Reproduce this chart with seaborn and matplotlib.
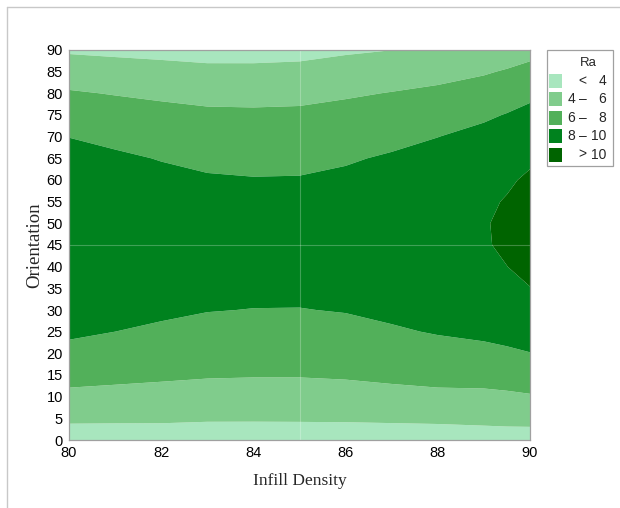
import numpy as np
import matplotlib
matplotlib.use('Agg')
import matplotlib.pyplot as plt
from matplotlib.patches import Rectangle
from matplotlib.lines import Line2D
import seaborn as sns

# Grid
infill = [80, 81, 82, 83, 84, 85, 86, 87, 88, 89, 89.5, 90]
orientation = [0, 5, 10, 15, 20, 25, 30, 35, 40, 45, 50, 55, 60, 65, 70, 75, 80, 85, 90]

# Ra along orientation, one list per infill density
ra_80 = [2.97, 4.34, 5.56, 6.62, 7.53, 8.28, 8.87, 9.30, 9.58, 9.70, 9.67, 9.48, 9.13, 8.63, 7.97, 7.15, 6.18, 5.05, 3.76]
ra_81 = [3.01, 4.30, 5.45, 6.45, 7.30, 8.00, 8.55, 8.95, 9.21, 9.32, 9.28, 9.09, 8.75, 8.26, 7.62, 6.84, 5.91, 4.83, 3.60]
ra_82 = [3.05, 4.28, 5.36, 6.29, 7.09, 7.75, 8.27, 8.64, 8.88, 8.97, 8.92, 8.73, 8.40, 7.93, 7.32, 6.57, 5.67, 4.64, 3.46]
ra_83 = [3.00, 4.19, 5.24, 6.15, 6.92, 7.55, 8.05, 8.41, 8.63, 8.72, 8.67, 8.48, 8.15, 7.69, 7.08, 6.34, 5.47, 4.45, 3.30]
ra_84 = [3.02, 4.18, 5.21, 6.10, 6.86, 7.48, 7.97, 8.33, 8.55, 8.63, 8.58, 8.39, 8.07, 7.61, 7.02, 6.30, 5.44, 4.44, 3.31]
ra_85 = [3.03, 4.19, 5.21, 6.10, 6.85, 7.47, 7.96, 8.32, 8.54, 8.63, 8.58, 8.40, 8.09, 7.64, 7.07, 6.35, 5.51, 4.53, 3.41]
ra_86 = [3.13, 4.19, 5.30, 6.19, 6.95, 7.58, 8.07, 8.43, 8.67, 8.77, 8.73, 8.57, 8.28, 7.85, 7.29, 6.60, 5.78, 4.83, 3.75]
ra_87 = [3.22, 4.22, 5.46, 6.38, 7.17, 7.82, 8.34, 8.72, 8.96, 9.07, 9.05, 8.89, 8.60, 8.17, 7.60, 6.90, 6.07, 5.10, 3.99]
ra_88 = [3.21, 4.28, 5.59, 6.57, 7.41, 8.11, 8.66, 9.07, 9.34, 9.47, 9.45, 9.30, 9.00, 8.56, 7.98, 7.25, 6.39, 5.38, 4.23]
ra_89 = [3.02, 4.50, 5.60, 6.66, 7.58, 8.34, 8.96, 9.42, 9.74, 9.90, 9.92, 9.78, 9.50, 9.06, 8.48, 7.74, 6.86, 5.82, 4.64]
ra_89_5 = [3.05, 4.58, 5.70, 6.80, 7.74, 8.54, 9.18, 9.66, 9.99, 10.18, 10.21, 10.09, 9.82, 9.39, 8.81, 8.08, 7.19, 6.16, 4.97]
ra_90 = [3.12, 4.57, 5.85, 6.99, 7.96, 8.79, 9.46, 9.97, 10.33, 10.53, 10.58, 10.47, 10.21, 9.79, 9.22, 8.49, 7.61, 6.57, 5.38]

levels = [0, 4, 6, 8, 10, 20]
level_colors = ['#A8E6BE', '#80CC8C', '#52B05A', '#00821E', '#006400']
legend_low = ['', '4', '6', '8', '']
legend_high = ['4', '6', '8', '10', '10']
legend_sign = ['<', '\u2013', '\u2013', '\u2013', '>']

sns.set_style('white')
plt.rcParams['font.family'] = ['Liberation Sans Narrow', 'Liberation Sans', 'DejaVu Sans']

ra = np.array([ra_80, ra_81, ra_82, ra_83, ra_84, ra_85, ra_86, ra_87,
               ra_88, ra_89, ra_89_5, ra_90]).T

fig = plt.figure(figsize=(6.2, 5.08), dpi=100)
ax = fig.add_axes([69 / 620, 1 - 440 / 508, (530 - 69) / 620, (440 - 50) / 508])
ax.contourf(infill, orientation, ra, levels=levels, colors=level_colors, antialiased=True)

# faint reference lines through the centre point
ax.axvline(85, color='white', alpha=0.25, lw=0.8)
ax.axhline(45, color='white', alpha=0.25, lw=0.8)

ax.set_xlim(80, 90)
ax.set_ylim(0, 90)
ax.set_xticks(range(80, 91, 2))
ax.set_yticks(range(0, 91, 5))
ax.tick_params(axis='both', direction='out', length=3, width=0.8, color='#A0A0A0',
               labelsize=10.5, pad=1.5, labelcolor='black')
for side in ['left', 'bottom', 'top', 'right']:
    ax.spines[side].set_color('#A0A0A0')
    ax.spines[side].set_linewidth(0.9)

ax.set_xlabel('Infill Density', family='Liberation Serif', fontsize=12.5, labelpad=9)
ax.set_ylabel('Orientation', family='Liberation Serif', fontsize=13.5, labelpad=2)

# legend box drawn in pixel positions of the figure
def fx(px):
    return px / 620

def fy(py):
    return 1 - py / 508

fig.add_artist(Rectangle((fx(547), fy(166)), fx(613) - fx(547), fy(50) - fy(166),
                         transform=fig.transFigure, facecolor='white', edgecolor='#A0A0A0', lw=0.9))
fig.text(fx(588), fy(63), 'Ra', ha='center', va='center', fontsize=9.5)
for i in range(5):
    cy = 81 + i * 18.4
    fig.add_artist(Rectangle((fx(549), fy(cy + 7)), fx(13), 14 / 508,
                             transform=fig.transFigure, facecolor=level_colors[i], edgecolor='none'))
    fig.text(fx(575), fy(cy), legend_low[i], ha='right', va='center', fontsize=10)
    fig.text(fx(582.5), fy(cy), legend_sign[i], ha='center', va='center', fontsize=10)
    fig.text(fx(606), fy(cy), legend_high[i], ha='right', va='center', fontsize=10)

# thin frame lines on the top and left of the image
fig.add_artist(Line2D([fx(7), 1], [fy(6.5), fy(6.5)], transform=fig.transFigure, color='#C8C8C8', lw=1))
fig.add_artist(Line2D([fx(7), fx(7)], [fy(6.5), 0], transform=fig.transFigure, color='#C8C8C8', lw=1))

fig.savefig('out.png', dpi=100)
